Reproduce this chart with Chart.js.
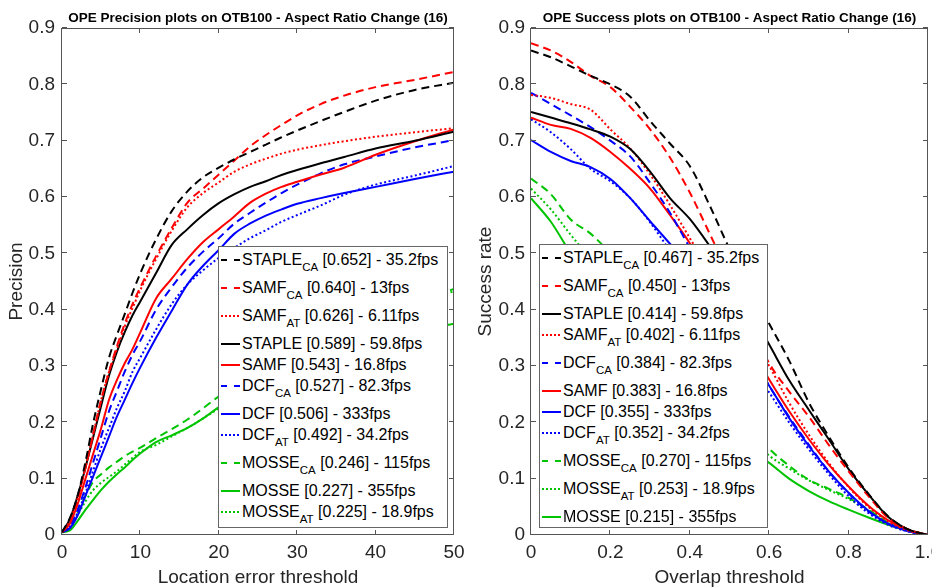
<!DOCTYPE html>
<html>
<head>
<meta charset="utf-8">
<title>OPE plots on OTB100 - Aspect Ratio Change (16)</title>
<script src="https://cdn.jsdelivr.net/npm/chart.js@4.4.1/dist/chart.umd.min.js"></script>
<style>
  body { margin: 0; background: #fff; }
  #page { position: relative; width: 932px; height: 588px; overflow: hidden; font-family: "Liberation Sans", Arial, sans-serif; }
  #page canvas { position: absolute; top: 0; }
  .legend { position: absolute; box-sizing: border-box; background: #fff; border: 1px solid #666; padding-top: 1px; }
  .legend .row { position: relative; white-space: nowrap; color: #000; font-size: 16px; }
  .legend .row svg { position: absolute; left: 2px; top: 10px; }
  .legend .row span { position: absolute; left: 23px; top: 0; line-height: 24px; }
  .legend sub { font-size: 11.5px; vertical-align: -6px; line-height: 0; }
</style>
</head>
<body>
<div id="page">
  <canvas id="precChart" width="466" height="588" style="left:0"></canvas>
  <canvas id="succChart" width="466" height="588" style="left:466px"></canvas>
  <div id="precLegend" class="legend" style="left:218px;top:246px;width:230px;height:282px"></div>
  <div id="succLegend" class="legend" style="left:539px;top:244px;width:229px;height:284px"></div>
</div>
<script>
// Precision plot: location error threshold (px)
const precX = [0, 1, 2, 3, 4, 5, 6, 7, 8, 9, 10, 12, 14, 16, 18, 20, 22, 24, 26, 28, 30, 33, 36, 40, 45, 50];
const precStapleCA = [0.005, 0.03, 0.07, 0.13, 0.2, 0.26, 0.315, 0.355, 0.392, 0.43, 0.465, 0.525, 0.575, 0.61, 0.635, 0.652, 0.667, 0.68, 0.693, 0.706, 0.718, 0.735, 0.751, 0.771, 0.79, 0.803];
const precSamfCA = [0.005, 0.025, 0.065, 0.12, 0.18, 0.24, 0.29, 0.335, 0.375, 0.41, 0.44, 0.495, 0.545, 0.59, 0.615, 0.64, 0.665, 0.69, 0.71, 0.728, 0.745, 0.765, 0.78, 0.795, 0.808, 0.822];
const precSamfAT = [0.005, 0.025, 0.065, 0.12, 0.18, 0.24, 0.29, 0.33, 0.37, 0.403, 0.435, 0.49, 0.54, 0.582, 0.607, 0.626, 0.645, 0.658, 0.668, 0.677, 0.684, 0.692, 0.699, 0.707, 0.715, 0.722];
const precStaple = [0.005, 0.028, 0.07, 0.12, 0.175, 0.23, 0.283, 0.325, 0.36, 0.39, 0.415, 0.465, 0.515, 0.543, 0.568, 0.589, 0.605, 0.618, 0.628, 0.639, 0.648, 0.66, 0.671, 0.686, 0.7, 0.716];
const precSamf = [0.005, 0.02, 0.055, 0.1, 0.145, 0.19, 0.24, 0.275, 0.305, 0.33, 0.36, 0.42, 0.455, 0.49, 0.52, 0.543, 0.566, 0.59, 0.606, 0.618, 0.627, 0.64, 0.652, 0.675, 0.699, 0.72];
const precDcfCA = [0.005, 0.015, 0.045, 0.085, 0.13, 0.175, 0.22, 0.255, 0.29, 0.32, 0.345, 0.4, 0.44, 0.475, 0.503, 0.527, 0.553, 0.572, 0.59, 0.607, 0.622, 0.642, 0.658, 0.672, 0.688, 0.701];
const precDcf = [0.005, 0.012, 0.035, 0.07, 0.105, 0.14, 0.175, 0.21, 0.24, 0.27, 0.298, 0.35, 0.398, 0.445, 0.478, 0.506, 0.535, 0.553, 0.567, 0.578, 0.588, 0.598, 0.607, 0.618, 0.632, 0.645];
const precDcfAT = [0.005, 0.015, 0.04, 0.075, 0.115, 0.155, 0.19, 0.225, 0.255, 0.29, 0.315, 0.365, 0.41, 0.445, 0.47, 0.492, 0.51, 0.527, 0.541, 0.556, 0.568, 0.585, 0.604, 0.622, 0.638, 0.655];
const precMosseCA = [0.005, 0.012, 0.04, 0.07, 0.095, 0.108, 0.12, 0.13, 0.14, 0.148, 0.155, 0.172, 0.188, 0.205, 0.225, 0.246, 0.262, 0.277, 0.292, 0.306, 0.32, 0.34, 0.358, 0.383, 0.41, 0.437];
const precMosse = [0.005, 0.008, 0.025, 0.045, 0.063, 0.08, 0.095, 0.108, 0.12, 0.133, 0.145, 0.165, 0.177, 0.19, 0.207, 0.227, 0.245, 0.262, 0.277, 0.29, 0.302, 0.318, 0.332, 0.348, 0.362, 0.375];
const precMosseAT = [0.005, 0.01, 0.035, 0.06, 0.08, 0.093, 0.103, 0.113, 0.125, 0.137, 0.148, 0.16, 0.175, 0.19, 0.207, 0.225, 0.248, 0.27, 0.29, 0.31, 0.328, 0.352, 0.375, 0.4, 0.42, 0.432];

// Success plot: overlap threshold
const succX = [0, 0.05, 0.1, 0.15, 0.2, 0.25, 0.3, 0.35, 0.4, 0.45, 0.5, 0.55, 0.6, 0.65, 0.7, 0.75, 0.8, 0.85, 0.9, 0.95, 1];
const succStapleCA = [0.86, 0.848, 0.832, 0.815, 0.8, 0.778, 0.735, 0.695, 0.655, 0.585, 0.508, 0.44, 0.375, 0.31, 0.235, 0.175, 0.12, 0.073, 0.033, 0.01, 0];
const succSamfCA = [0.873, 0.86, 0.84, 0.815, 0.795, 0.76, 0.72, 0.67, 0.608, 0.535, 0.46, 0.38, 0.305, 0.255, 0.21, 0.16, 0.113, 0.069, 0.03, 0.01, 0];
const succStaple = [0.751, 0.741, 0.731, 0.72, 0.707, 0.685, 0.645, 0.598, 0.561, 0.513, 0.46, 0.4, 0.338, 0.275, 0.222, 0.17, 0.117, 0.072, 0.032, 0.01, 0];
const succSamfAT = [0.781, 0.776, 0.765, 0.755, 0.72, 0.686, 0.64, 0.586, 0.527, 0.47, 0.41, 0.355, 0.3, 0.235, 0.178, 0.128, 0.085, 0.05, 0.024, 0.008, 0];
const succDcfCA = [0.785, 0.765, 0.745, 0.724, 0.7, 0.672, 0.625, 0.572, 0.51, 0.45, 0.39, 0.33, 0.265, 0.21, 0.16, 0.113, 0.074, 0.042, 0.02, 0.007, 0];
const succSamf = [0.741, 0.728, 0.721, 0.705, 0.68, 0.65, 0.615, 0.568, 0.518, 0.46, 0.395, 0.335, 0.276, 0.22, 0.17, 0.125, 0.086, 0.052, 0.026, 0.009, 0];
const succDcf = [0.701, 0.68, 0.664, 0.653, 0.632, 0.598, 0.557, 0.517, 0.475, 0.425, 0.372, 0.318, 0.265, 0.208, 0.158, 0.113, 0.075, 0.043, 0.02, 0.007, 0];
const succDcfAT = [0.738, 0.715, 0.685, 0.65, 0.628, 0.598, 0.555, 0.505, 0.458, 0.41, 0.36, 0.305, 0.253, 0.2, 0.152, 0.108, 0.069, 0.039, 0.018, 0.006, 0];
const succMosseCA = [0.633, 0.605, 0.56, 0.535, 0.5, 0.46, 0.415, 0.37, 0.325, 0.28, 0.235, 0.192, 0.153, 0.123, 0.098, 0.082, 0.066, 0.045, 0.022, 0.008, 0];
const succMosseAT = [0.615, 0.578, 0.533, 0.49, 0.45, 0.41, 0.37, 0.33, 0.29, 0.255, 0.215, 0.178, 0.141, 0.118, 0.097, 0.08, 0.064, 0.043, 0.021, 0.008, 0];
const succMosse = [0.598, 0.556, 0.5, 0.45, 0.4, 0.355, 0.315, 0.275, 0.24, 0.208, 0.178, 0.152, 0.128, 0.1, 0.078, 0.06, 0.045, 0.031, 0.018, 0.007, 0];

// Tick labels
const precXTicks = [0, 10, 20, 30, 40, 50];
const succXTicks = [0, 0.2, 0.4, 0.6, 0.8, 1];
const yTicks = [0, 0.1, 0.2, 0.3, 0.4, 0.5, 0.6, 0.7, 0.8, 0.9];

// Legend entries, in legend order (_{..} = subscript)
const precKeys = ['STAPLE_CA', 'SAMF_CA', 'SAMF_AT', 'STAPLE', 'SAMF', 'DCF_CA', 'DCF', 'DCF_AT', 'MOSSE_CA', 'MOSSE', 'MOSSE_AT'];
const precLabels = ['STAPLE_{CA} [0.652] - 35.2fps', 'SAMF_{CA} [0.640] - 13fps', 'SAMF_{AT} [0.626] - 6.11fps', 'STAPLE [0.589] - 59.8fps', 'SAMF [0.543] - 16.8fps', 'DCF_{CA} [0.527] - 82.3fps', 'DCF [0.506] - 333fps', 'DCF_{AT} [0.492] - 34.2fps', 'MOSSE_{CA} [0.246] - 115fps', 'MOSSE [0.227] - 355fps', 'MOSSE_{AT} [0.225] - 18.9fps'];
const precValues = [precStapleCA, precSamfCA, precSamfAT, precStaple, precSamf, precDcfCA, precDcf, precDcfAT, precMosseCA, precMosse, precMosseAT];

const succKeys = ['STAPLE_CA', 'SAMF_CA', 'STAPLE', 'SAMF_AT', 'DCF_CA', 'SAMF', 'DCF', 'DCF_AT', 'MOSSE_CA', 'MOSSE_AT', 'MOSSE'];
const succLabels = ['STAPLE_{CA} [0.467] - 35.2fps', 'SAMF_{CA} [0.450] - 13fps', 'STAPLE [0.414] - 59.8fps', 'SAMF_{AT} [0.402] - 6.11fps', 'DCF_{CA} [0.384] - 82.3fps', 'SAMF [0.383] - 16.8fps', 'DCF [0.355] - 333fps', 'DCF_{AT} [0.352] - 34.2fps', 'MOSSE_{CA} [0.270] - 115fps', 'MOSSE_{AT} [0.253] - 18.9fps', 'MOSSE [0.215] - 355fps'];
const succValues = [succStapleCA, succSamfCA, succStaple, succSamfAT, succDcfCA, succSamf, succDcf, succDcfAT, succMosseCA, succMosseAT, succMosse];

// line styles per tracker
const trackerColor = { STAPLE: '#000000', SAMF: '#ff0000', DCF: '#0000ff', MOSSE: '#00c400' };
const variantDash = { CA: 'dashed', AT: 'dotted', '': 'solid' };
const plotDash = { solid: [], dashed: [8, 5], dotted: [2, 2.5] };
const legendDash = { solid: '', dashed: '6,7', dotted: '2,2' };

Chart.defaults.font.family = '"Liberation Sans", Arial, sans-serif';
Chart.defaults.color = '#262626';

function buildDatasets(xs, keys, labels, values) {
  return keys.map((key, i) => {
    const [tracker, variant = ''] = key.split('_');
    const dash = variantDash[variant];
    return {
      label: labels[i],
      data: xs.map((x, j) => ({ x: x, y: values[i][j] })),
      borderColor: trackerColor[tracker],
      borderDash: plotDash[dash],
      legendDash: legendDash[dash],
      borderWidth: 2,
      pointRadius: 0,
      fill: false,
      cubicInterpolationMode: 'monotone'
    };
  });
}

// MATLAB style box with inward ticks on all four sides
const boxAxes = {
  id: 'boxAxes',
  afterDraw(chart) {
    const { ctx, chartArea: a, scales: { x, y } } = chart;
    ctx.save();
    ctx.strokeStyle = '#555';
    ctx.lineWidth = 1;
    ctx.beginPath();
    x.ticks.forEach(t => {
      const px = Math.round(x.getPixelForValue(t.value)) - 0.5;
      ctx.moveTo(px, a.bottom); ctx.lineTo(px, a.bottom - 5);
      ctx.moveTo(px, a.top); ctx.lineTo(px, a.top + 5);
    });
    y.ticks.forEach(t => {
      const py = Math.round(y.getPixelForValue(t.value)) - 0.5;
      ctx.moveTo(a.left, py); ctx.lineTo(a.left + 5, py);
      ctx.moveTo(a.right, py); ctx.lineTo(a.right - 5, py);
    });
    ctx.stroke();
    ctx.strokeRect(a.left - 0.5, a.top + 0.5, a.width, a.height - 1);
    ctx.restore();
  }
};

// legend as html so subscripts stay real text
const htmlLegend = {
  id: 'htmlLegend',
  afterUpdate(chart, args, opts) {
    const box = document.getElementById(opts.containerID);
    box.innerHTML = '';
    chart.data.datasets.forEach(ds => {
      const hasSub = ds.label.indexOf('_{') >= 0;
      const row = document.createElement('div');
      row.className = 'row';
      row.style.height = (hasSub ? 28 : 21) + 'px';
      const dashAttr = ds.legendDash ? ' stroke-dasharray="' + ds.legendDash + '"' : '';
      row.innerHTML = '<svg width="19" height="4"><line x1="0" y1="2" x2="19" y2="2" stroke="' + ds.borderColor +
        '" stroke-width="2"' + dashAttr + '/></svg><span>' + ds.label.replace(/_\{(.*?)\}/g, '<sub>$1</sub>') + '</span>';
      box.appendChild(row);
    });
  }
};

function makeChart(canvasId, legendId, opts) {
  const ctx = document.getElementById(canvasId).getContext('2d');
  return new Chart(ctx, {
    type: 'line',
    data: { datasets: opts.datasets },
    options: {
      responsive: false,
      animation: false,
      layout: { padding: { left: 0, right: opts.padRight, top: 0, bottom: 0 } },
      plugins: {
        legend: { display: false },
        tooltip: { enabled: false },
        title: {
          display: true,
          text: opts.title,
          color: '#000',
          fullSize: false,
          font: { size: 13.5, weight: 'bold' },
          padding: { top: 10, bottom: 1.8 }
        },
        htmlLegend: { containerID: legendId }
      },
      scales: {
        x: {
          type: 'linear',
          min: opts.xMin,
          max: opts.xMax,
          afterBuildTicks: s => { s.ticks = opts.xTicks.map(v => ({ value: v })); },
          afterFit: s => { s.height = 53; s.paddingLeft = 0; s.paddingRight = 0; },
          grid: { display: false, drawTicks: false },
          border: { display: false },
          ticks: { font: { size: 19 }, color: '#262626', padding: 6, maxRotation: 0 },
          title: { display: true, text: opts.xTitle, font: { size: 19 }, color: '#262626', padding: { top: 0, bottom: -1 } }
        },
        y: {
          min: 0,
          max: 0.9,
          afterBuildTicks: s => { s.ticks = yTicks.map(v => ({ value: v })); },
          afterFit: s => { s.width = opts.yWidth; s.paddingTop = 0; s.paddingBottom = 0; },
          grid: { display: false, drawTicks: false },
          border: { display: false },
          ticks: { font: { size: 19 }, color: '#262626', padding: opts.yTickPad },
          title: { display: true, text: opts.yTitle, font: { size: 19 }, color: '#262626', padding: { top: opts.yTitlePad, bottom: 0 } }
        }
      }
    },
    plugins: [boxAxes, htmlLegend]
  });
}

makeChart('precChart', 'precLegend', {
  datasets: buildDatasets(precX, precKeys, precLabels, precValues),
  title: 'OPE Precision plots on OTB100 - Aspect Ratio Change (16)',
  xMin: 0, xMax: 50, xTicks: precXTicks,
  xTitle: 'Location error threshold', yTitle: 'Precision',
  yWidth: 62, yTickPad: 7, yTitlePad: 5.6, padRight: 12
});

makeChart('succChart', 'succLegend', {
  datasets: buildDatasets(succX, succKeys, succLabels, succValues),
  title: 'OPE Success plots on OTB100 - Aspect Ratio Change (16)',
  xMin: 0, xMax: 1, xTicks: succXTicks,
  xTitle: 'Overlap threshold', yTitle: 'Success rate',
  yWidth: 65, yTickPad: 6, yTitlePad: 8.6, padRight: 4
});
</script>
</body>
</html>
